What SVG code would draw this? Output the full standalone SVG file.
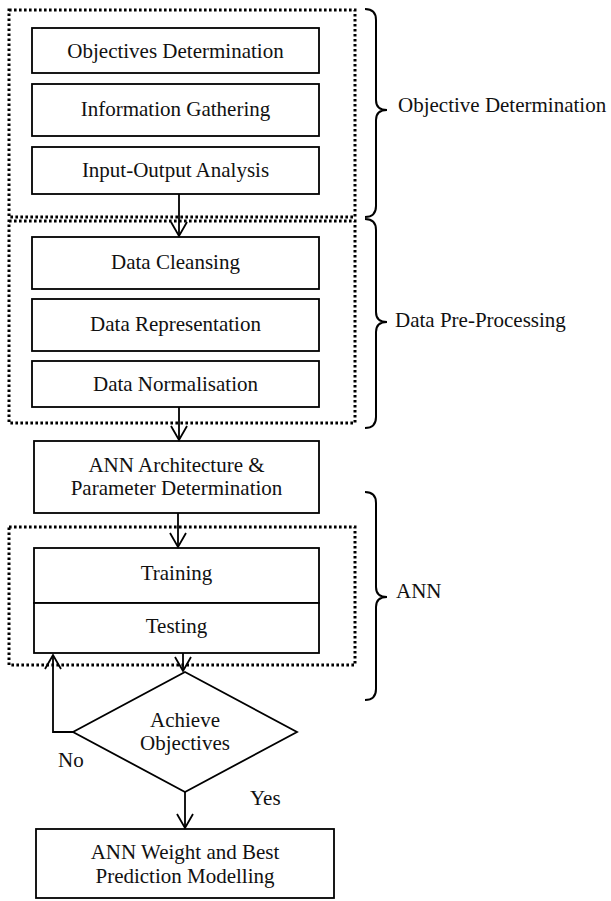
<svg xmlns="http://www.w3.org/2000/svg" width="611" height="901" viewBox="0 0 611 901">
<style>
  .box{fill:#fff;stroke:#000;stroke-width:1.8}
  .grp{fill:none;stroke:#000;stroke-width:3;stroke-dasharray:2.6 2.4}
  .brace{fill:none;stroke:#000;stroke-width:2}
  .conn{fill:none;stroke:#000;stroke-width:1.8}
  text{font-family:"Liberation Serif","Times New Roman",serif;font-size:21px;fill:#111}
  .c{text-anchor:middle}
</style>
<defs>
  <marker id="arr" viewBox="-16 -10 18 20" refX="0" refY="0" markerWidth="18" markerHeight="20" markerUnits="userSpaceOnUse" orient="auto">
    <path d="M-14,-8 L0,0 L-14,8" fill="none" stroke="#000" stroke-width="1.8"/>
  </marker>
</defs>
<rect fill="#fff" x="0" y="0" width="611" height="901"/>

<g id="groups">
  <rect class="grp" x="9" y="10" width="346" height="207"/>
  <rect class="grp" x="9" y="221" width="346" height="202"/>
  <rect class="grp" x="9" y="527" width="346" height="138"/>
</g>

<g id="n-objdet"><rect class="box" x="32" y="28" width="287" height="45"/><text class="c" x="175.5" y="58">Objectives Determination</text></g>
<g id="n-info"><rect class="box" x="32" y="84" width="287" height="52"/><text class="c" x="175.5" y="116">Information Gathering</text></g>
<g id="n-io"><rect class="box" x="32" y="147" width="287" height="47"/><text class="c" x="175.5" y="177">Input-Output Analysis</text></g>
<g id="n-clean"><rect class="box" x="32" y="237" width="287" height="52"/><text class="c" x="175.5" y="269">Data Cleansing</text></g>
<g id="n-repr"><rect class="box" x="32" y="299" width="287" height="52"/><text class="c" x="175.5" y="331">Data Representation</text></g>
<g id="n-norm"><rect class="box" x="32" y="361" width="287" height="46"/><text class="c" x="175.5" y="391">Data Normalisation</text></g>
<g id="n-arch"><rect class="box" x="34" y="441" width="285" height="72"/><text class="c" x="176.5" y="472">ANN Architecture &amp;</text><text class="c" x="176.5" y="495">Parameter Determination</text></g>
<g id="n-train"><rect class="box" x="34" y="548" width="285" height="55"/><text class="c" x="176.5" y="580">Training</text></g>
<g id="n-test"><rect class="box" x="34" y="603" width="285" height="50"/><text class="c" x="176.5" y="633">Testing</text></g>
<g id="n-achieve"><path class="box" d="M185,672 L297,732 L185,792 L73,732 Z"/><text class="c" x="185" y="727">Achieve</text><text class="c" x="185" y="750">Objectives</text></g>
<g id="n-final"><rect class="box" x="36" y="829" width="298" height="69"/><text class="c" x="185" y="859">ANN Weight and Best</text><text class="c" x="185" y="883">Prediction Modelling</text></g>

<g id="braces">
  <path class="brace" d="M365,9 Q376,9 376,20 L376,100 Q376,110 387,110 Q376,110 376,120 L376,206 Q376,217 365,217"/>
  <path class="brace" d="M365,219 Q376,219 376,230 L376,312 Q376,322 387,322 Q376,322 376,332 L376,417 Q376,428 365,428"/>
  <path class="brace" d="M365,492 Q376,492 376,503 L376,587 Q376,597 387,597 Q376,597 376,607 L376,689 Q376,700 365,700"/>
  <text x="398" y="112">Objective Determination</text>
  <text x="395" y="327">Data Pre-Processing</text>
  <text x="396" y="598">ANN</text>
</g>

<g id="connectors">
  <line class="conn" x1="179" y1="194" x2="179" y2="236" marker-end="url(#arr)"/>
  <line class="conn" x1="179" y1="407" x2="179" y2="440" marker-end="url(#arr)"/>
  <line class="conn" x1="178" y1="513" x2="178" y2="547" marker-end="url(#arr)"/>
  <line class="conn" x1="183" y1="653" x2="183" y2="671" marker-end="url(#arr)"/>
  <line class="conn" x1="185" y1="792" x2="185" y2="828" marker-end="url(#arr)"/>
  <polyline class="conn" points="73,732 53,732 53,655" marker-end="url(#arr)"/>
  <text x="58" y="767">No</text>
  <text x="250" y="805">Yes</text>
</g>
</svg>
